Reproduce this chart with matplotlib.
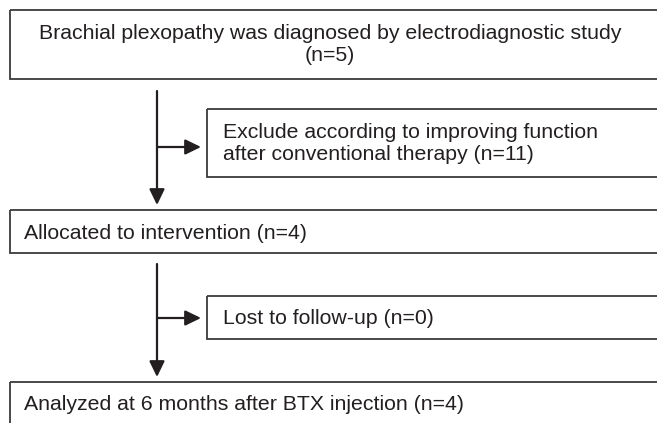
import matplotlib
matplotlib.use("Agg")
import matplotlib.pyplot as plt
from matplotlib.patches import Rectangle

plt.rcParams['font.family'] = ['Liberation Sans', 'DejaVu Sans']

W, H = 657, 423
fig = plt.figure(figsize=(W / 100, H / 100), dpi=100)
ax = fig.add_axes([0, 0, 1, 1])
ax.set_xlim(0, W)
ax.set_ylim(H, 0)
ax.axis('off')

line_col = '#3a3a3a'
text_col = '#231f20'
FS = 15.35

# main boxes: (top, bottom)
main_boxes = [(10, 79), (210, 253), (382, 440)]
side_boxes = [(109, 177), (296, 339)]
box_left = 9.5
side_left = 207

texts_main = [
    ["Brachial plexopathy was diagnosed by electrodiagnostic study", "(n=5)"],
    ["Allocated to intervention (n=4)"],
    ["Analyzed at 6 months after BTX injection (n=4)"],
]
texts_side = [
    ["Exclude according to improving function", "after conventional therapy (n=11)"],
    ["Lost to follow-up (n=0)"],
]

for (t, b) in main_boxes:
    ax.add_patch(Rectangle((box_left, t), W + 20 - box_left, b - t, fill=False,
                           ec=line_col, lw=1.3, clip_on=True))
for (t, b) in side_boxes:
    ax.add_patch(Rectangle((side_left, t), W + 20 - side_left, b - t, fill=False,
                           ec=line_col, lw=1.3, clip_on=True))

# text
ax.text(330, 39, texts_main[0][0], ha='center', va='baseline', fontsize=FS, color=text_col)
ax.text(330, 61, texts_main[0][1], ha='center', va='baseline', fontsize=FS, color=text_col)
ax.text(24, 239, texts_main[1][0], ha='left', va='baseline', fontsize=FS, color=text_col)
ax.text(24, 410, texts_main[2][0], ha='left', va='baseline', fontsize=FS, color=text_col)
ax.text(223, 138, texts_side[0][0], ha='left', va='baseline', fontsize=FS, color=text_col)
ax.text(223, 160, texts_side[0][1], ha='left', va='baseline', fontsize=FS, color=text_col)
ax.text(223, 324, texts_side[1][0], ha='left', va='baseline', fontsize=FS, color=text_col)

# arrows
xv = 157
ap = dict(arrowstyle='-|>,head_length=0.68,head_width=0.33', color='#231f20', lw=1.6,
          shrinkA=0, shrinkB=0, mutation_scale=14)
ax.annotate('', xy=(xv, 205), xytext=(xv, 91), arrowprops=ap)
ax.annotate('', xy=(xv, 377), xytext=(xv, 264), arrowprops=ap)
ax.annotate('', xy=(201, 147), xytext=(xv, 147), arrowprops=ap)
ax.annotate('', xy=(201, 318), xytext=(xv, 318), arrowprops=ap)

fig.savefig('out.png', dpi=100, facecolor='white')
